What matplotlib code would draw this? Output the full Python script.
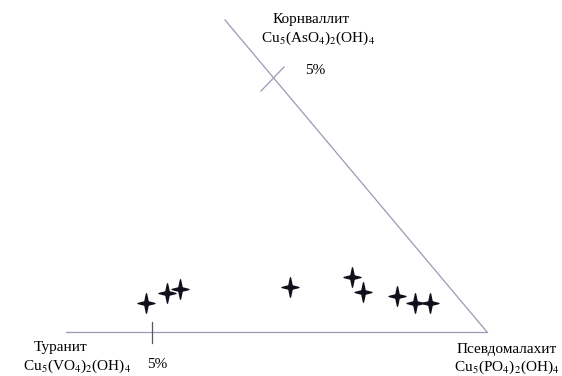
import numpy as np
import matplotlib
matplotlib.use("Agg")
import matplotlib.pyplot as plt
from matplotlib.path import Path

plt.rcParams['font.family'] = ['Liberation Serif', 'DejaVu Serif']
plt.rcParams['mathtext.fontset'] = 'stix'

# sample points (diagram units, y up)
pt_x = [146, 166.7, 180, 290, 351.7, 362.7, 397.3, 415, 430]
pt_y = [73, 83, 87, 89, 99, 84, 80, 73.3, 73.3]

# diagram frame
base_x = [66, 487]
base_y = [44, 44]
side_x = [487, 225]
side_y = [44, 356]

# 5% ticks
tick_base_x = [151.5, 151.5]
tick_base_y = [54, 33]
tick_side_x = [261, 284]
tick_side_y = [285, 309]

# four-pointed star marker
a = 0.2
star = Path([(0, 1.15), (a, a), (1, 0), (a, -a), (0, -1.15), (-a, -a),
             (-1, 0), (-a, a), (0, 1.15)],
            [Path.MOVETO] + [Path.LINETO] * 7 + [Path.CLOSEPOLY])


def main():
    fig = plt.figure(figsize=(5.62, 3.76), dpi=100)
    ax = fig.add_axes([0, 0, 1, 1])
    ax.set_xlim(0, 562)
    ax.set_ylim(0, 376)
    ax.axis('off')

    lc = '#9a9ab4'
    ax.plot(base_x, base_y, color=lc, lw=0.9)
    ax.plot(side_x, side_y, color=lc, lw=0.9)
    ax.plot(tick_base_x, tick_base_y, color='#55556a', lw=0.9)
    ax.plot(tick_side_x, tick_side_y, color=lc, lw=0.9)

    ax.plot(pt_x, pt_y, linestyle='none', marker=star, markersize=14,
            color='#10101c')

    fs = 11
    ax.text(311, 357, 'Корнваллит', ha='center', va='center', fontsize=fs)
    ax.text(318, 338, r'Cu$_5$(AsO$_4$)$_2$(OH)$_4$', ha='center',
            va='center', fontsize=fs)
    ax.text(315, 305, '5%', ha='center', va='center', fontsize=fs)

    ax.text(61, 28, 'Туранит', ha='center', va='center', fontsize=fs)
    ax.text(77, 10, r'Cu$_5$(VO$_4$)$_2$(OH)$_4$', ha='center',
            va='center', fontsize=fs)
    ax.text(157, 11, '5%', ha='center', va='center', fontsize=fs)

    ax.text(507, 26, 'Псевдомалахит', ha='center', va='center', fontsize=fs)
    ax.text(507, 9, r'Cu$_5$(PO$_4$)$_2$(OH)$_4$', ha='center',
            va='center', fontsize=fs)

    fig.savefig('out.png', dpi=100)


if __name__ == "__main__":
    main()
